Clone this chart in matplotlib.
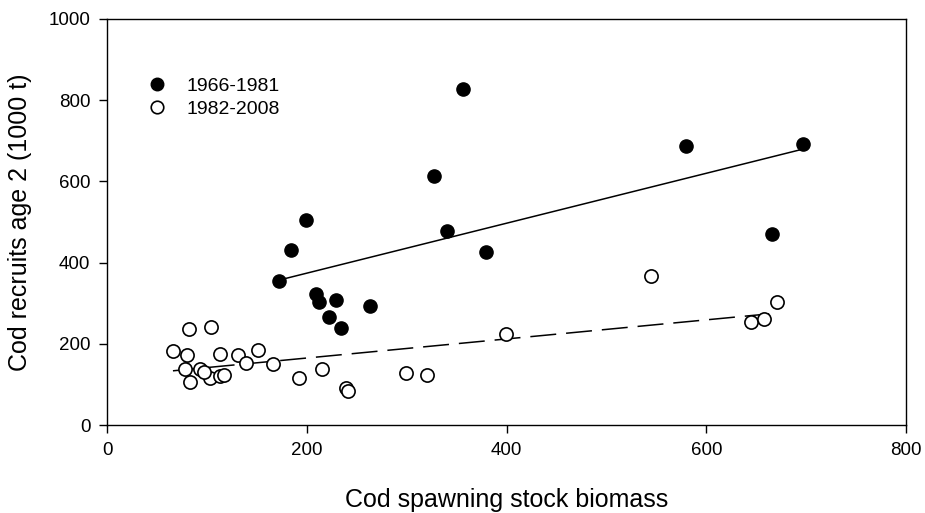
import numpy as np
import matplotlib
matplotlib.use("Agg")
import matplotlib.pyplot as plt

plt.rcParams['font.family'] = ['Liberation Sans', 'DejaVu Sans']

# 1966-1981 (filled)
ssb_early = [356, 327, 199, 184, 340, 379, 172, 209, 212, 229, 263, 222, 234, 580, 697, 666]
rec_early = [828, 613, 506, 431, 478, 426, 354, 323, 302, 308, 293, 265, 240, 688, 692, 471]

# 1982-2008 (open)
ssb_late = [82, 104, 66, 80, 113, 131, 151, 139, 166, 78, 93, 83, 103, 113, 117,
            192, 215, 239, 241, 299, 320, 399, 545, 671, 645, 658, 97]
rec_late = [236, 241, 182, 172, 175, 173, 184, 153, 150, 139, 137, 107, 115, 121, 123,
            116, 137, 90, 84, 127, 122, 223, 368, 303, 253, 260, 130]

# regression lines (slope, intercept)
fit_early = (0.615, 251.0)
fit_late = (0.235, 118.0)

fig = plt.figure(figsize=(9.25, 5.13), dpi=100)
ax = fig.add_axes([0.1157, 0.1715, 0.8638, 0.7915])

ax.plot(ssb_early, rec_early, 'o', color='black', markersize=9.5, label='1966-1981',
        zorder=3)
ax.plot(ssb_late, rec_late, 'o', markerfacecolor='white', markeredgecolor='black',
        markeredgewidth=1.2, markersize=9.5, label='1982-2008', zorder=3)

xe = np.array([min(ssb_early), max(ssb_early)])
ax.plot(xe, fit_early[0] * xe + fit_early[1], '-', color='black', lw=1.1, zorder=2)
xl = np.array([min(ssb_late), max(ssb_late) - 8])
ax.plot(xl, fit_late[0] * xl + fit_late[1], color='black', lw=1.1,
        linestyle=(0, (17, 6.5)), zorder=2)

ax.set_xlim(0, 800)
ax.set_ylim(0, 1000)
ax.set_xticks([0, 200, 400, 600, 800])
ax.set_yticks([0, 200, 400, 600, 800, 1000])
ax.tick_params(direction='out', length=6, width=1, labelsize=13.5, pad=6)
for s in ax.spines.values():
    s.set_linewidth(1)

ax.set_xlabel('Cod spawning stock biomass', fontsize=18, labelpad=21)
ax.set_ylabel('Cod recruits age 2 (1000 t)', fontsize=18, labelpad=12)

leg = ax.legend(loc='upper left', bbox_to_anchor=(0.028, 0.90), frameon=False,
                fontsize=14, handlelength=1.0, handletextpad=1.05, markerscale=0.95,
                labelspacing=0.3)

fig.savefig('out.png', dpi=100)
